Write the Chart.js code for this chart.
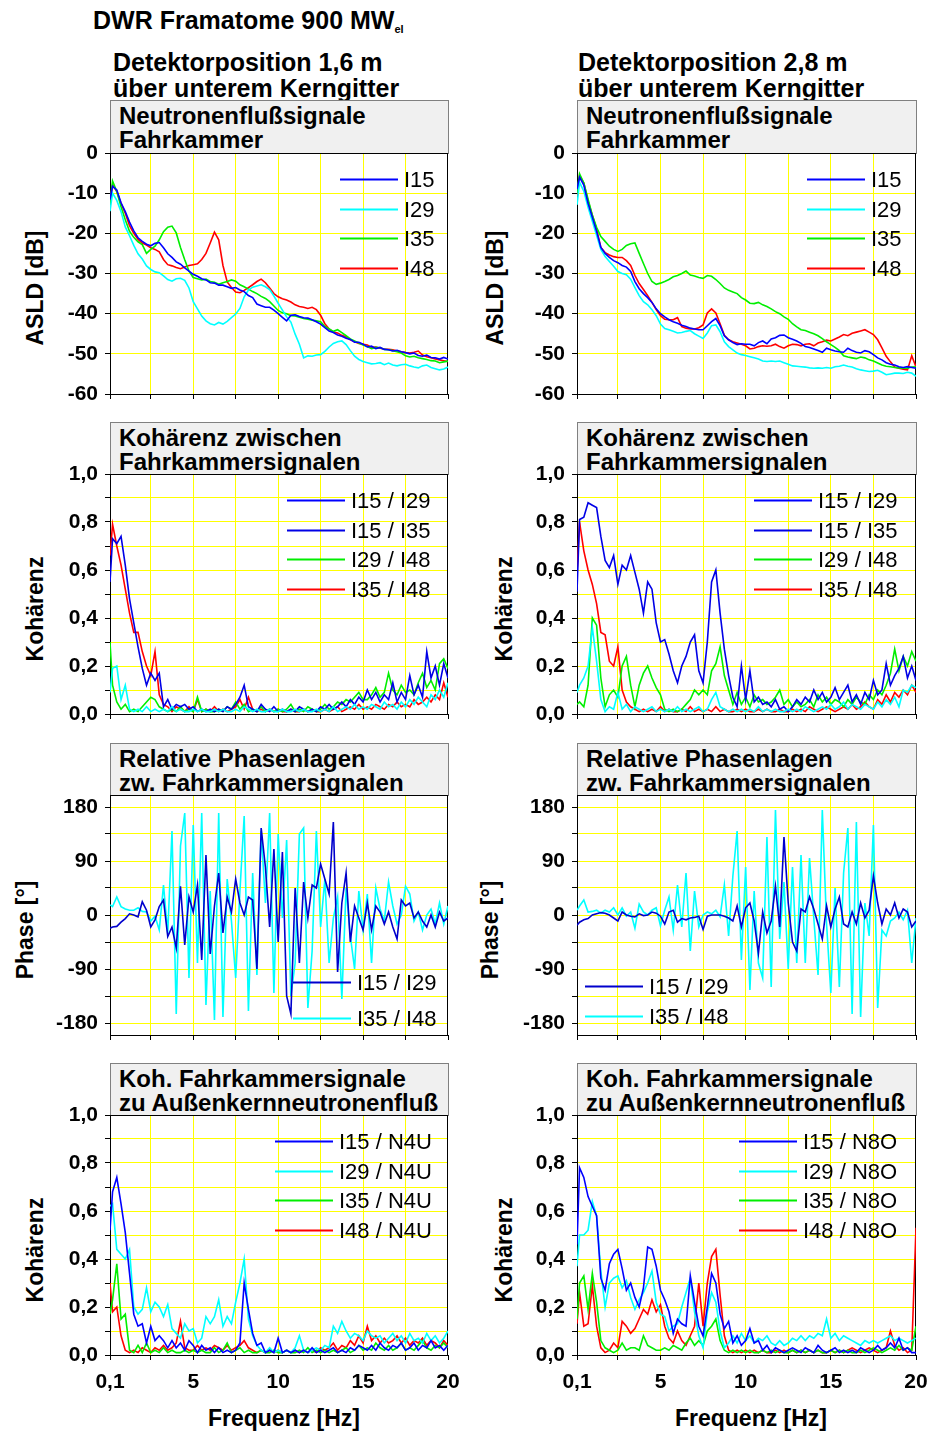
<!DOCTYPE html>
<html>
<head>
<meta charset="utf-8">
<title>DWR Framatome 900 MWel</title>
<script src="https://cdn.jsdelivr.net/npm/chart.js"></script>
<style>
  body { margin: 0; background: #fff; }
  #page { position: relative; width: 941px; height: 1431px; overflow: hidden;
          font-family: "Liberation Sans", Arial, sans-serif; color: #000; }
  .head { position: absolute; font-weight: bold; font-size: 25px; line-height: 26px; white-space: nowrap; }
  .box { position: absolute; box-sizing: border-box; background: #f0f0f0; border: 1px solid #808080;
         font-weight: bold; font-size: 24px; line-height: 24px; padding: 3px 0 0 8px; white-space: nowrap; }
  .rot { position: absolute; font-weight: bold; font-size: 23px; line-height: 23px; white-space: nowrap;
         transform: translate(-50%, -50%) rotate(-90deg); }
  .xt { position: absolute; font-weight: bold; font-size: 23px; line-height: 23px; white-space: nowrap;
        transform: translate(-50%, -50%); }
  canvas { position: absolute; }
</style>
</head>
<body>
<div id="page">
  <div class="head" style="left:93px;top:7px;">DWR Framatome 900 MW<span style="font-size:11px;position:relative;top:4px;">el</span></div>
  <div class="head" style="left:113px;top:49px;">Detektorposition 1,6 m<br>über unterem Kerngitter</div>
  <div class="head" style="left:578px;top:49px;">Detektorposition 2,8 m<br>über unterem Kerngitter</div>

  <div class="box" style="left:110px;top:100px;width:339px;height:54px;">Neutronenflußsignale<br>Fahrkammer</div>
  <div class="box" style="left:577px;top:100px;width:340px;height:54px;">Neutronenflußsignale<br>Fahrkammer</div>
  <div class="box" style="left:110px;top:422px;width:339px;height:53px;">Kohärenz zwischen<br>Fahrkammersignalen</div>
  <div class="box" style="left:577px;top:422px;width:340px;height:53px;">Kohärenz zwischen<br>Fahrkammersignalen</div>
  <div class="box" style="left:110px;top:743px;width:339px;height:53px;">Relative Phasenlagen<br>zw. Fahrkammersignalen</div>
  <div class="box" style="left:577px;top:743px;width:340px;height:53px;">Relative Phasenlagen<br>zw. Fahrkammersignalen</div>
  <div class="box" style="left:110px;top:1063px;width:339px;height:53px;">Koh. Fahrkammersignale<br>zu Außenkernneutronenfluß</div>
  <div class="box" style="left:577px;top:1063px;width:340px;height:53px;">Koh. Fahrkammersignale<br>zu Außenkernneutronenfluß</div>

  <div class="rot" style="left:35px;top:288px;">ASLD [dB]</div>
  <div class="rot" style="left:495px;top:288px;">ASLD [dB]</div>
  <div class="rot" style="left:35px;top:609px;">Kohärenz</div>
  <div class="rot" style="left:504px;top:609px;">Kohärenz</div>
  <div class="rot" style="left:25px;top:930px;">Phase [°]</div>
  <div class="rot" style="left:490px;top:930px;">Phase [°]</div>
  <div class="rot" style="left:35px;top:1250px;">Kohärenz</div>
  <div class="rot" style="left:504px;top:1250px;">Kohärenz</div>

  <div class="xt" style="left:284px;top:1418px;">Frequenz [Hz]</div>
  <div class="xt" style="left:751px;top:1418px;">Frequenz [Hz]</div>
</div>

<script>
// frequency grid shared by all curves (Hz)
const freqHz = [0.1,
  0.25,0.5,0.75,1,1.25,1.5,1.75,2,2.25,2.5,
  2.75,3,3.25,3.5,3.75,4,4.25,4.5,4.75,5,
  5.25,5.5,5.75,6,6.25,6.5,6.75,7,7.25,7.5,
  7.75,8,8.25,8.5,8.75,9,9.25,9.5,9.75,10,
  10.25,10.5,10.75,11,11.25,11.5,11.75,12,12.25,12.5,
  12.75,13,13.25,13.5,13.75,14,14.25,14.5,14.75,15,
  15.25,15.5,15.75,16,16.25,16.5,16.75,17,17.25,17.5,
  17.75,18,18.25,18.5,18.75,19,19.25,19.5,19.75,20];

// tick positions and labels
const xTicks = [0.1, 2.5, 5, 7.5, 10, 12.5, 15, 17.5, 20];
const xTickLabels = ['0,1', '', '5', '', '10', '', '15', '', '20'];
const yTicksAsld = [-60, -50, -40, -30, -20, -10, 0];
const yLabelsAsld = ['-60', '-50', '-40', '-30', '-20', '-10', '0'];
const yTicksKoh = [0, 0.1, 0.2, 0.3, 0.4, 0.5, 0.6, 0.7, 0.8, 0.9, 1.0];
const yLabelsKoh = ['0,0', '', '0,2', '', '0,4', '', '0,6', '', '0,8', '', '1,0'];
const yTicksPhase = [-180, -135, -90, -45, 0, 45, 90, 135, 180];
const yLabelsPhase = ['-180', '', '-90', '', '0', '', '90', '', '180'];

// --- ASLD, detector 1,6 m (dB)
const asld16_I15 = [-11.6,
  -8.3,-9.2,-12.4,-14.6,-17.2,-19.4,-21.1,-22.0,-22.7,-23.1,
  -22.5,-22.3,-23.6,-25.1,-26.0,-27.1,-27.7,-28.6,-29.4,-30.2,
  -30.7,-31.3,-31.6,-32.3,-32.4,-32.9,-32.9,-33.3,-33.7,-33.5,
  -34.1,-34.5,-35.5,-36.0,-37.6,-38.0,-38.4,-38.4,-39.1,-40.0,
  -40.9,-41.8,-40.4,-40.3,-40.7,-41.0,-41.1,-41.5,-42.0,-42.6,
  -43.5,-44.3,-44.7,-45.3,-45.6,-46.1,-46.4,-47.1,-47.1,-47.6,
  -48.3,-48.1,-48.7,-48.4,-48.9,-49.0,-49.3,-49.1,-49.5,-49.7,
  -50.0,-49.8,-50.4,-50.6,-50.3,-50.9,-51.0,-51.3,-50.9,-51.3];
const asld16_I29 = [-14.5,
  -10.0,-11.8,-14.6,-18.4,-20.6,-23.0,-25.1,-26.4,-28.1,-29.0,
  -29.6,-29.8,-30.6,-31.5,-31.9,-31.3,-31.2,-31.7,-33.6,-37.0,
  -38.8,-40.6,-41.8,-42.5,-42.8,-42.2,-42.6,-41.9,-41.0,-40.1,
  -38.7,-35.8,-34.1,-33.4,-33.1,-32.8,-33.3,-34.0,-35.6,-37.4,
  -39.1,-40.8,-42.1,-45.1,-47.6,-51.0,-50.5,-50.6,-50.3,-50.2,
  -49.4,-48.3,-47.4,-47.0,-46.8,-47.7,-49.2,-50.6,-51.4,-51.9,
  -52.2,-52.5,-52.4,-52.2,-52.7,-52.3,-52.8,-53.0,-52.7,-52.6,
  -53.0,-53.3,-53.5,-53.0,-52.8,-53.4,-53.7,-54.0,-53.8,-53.3];
const asld16_I35 = [-12.9,
  -7.0,-9.6,-13.4,-16.6,-19.5,-21.0,-22.1,-22.8,-25.0,-24.0,
  -23.2,-21.6,-19.6,-18.5,-18.2,-19.9,-23.5,-26.6,-29.4,-31.0,
  -31.3,-31.6,-31.4,-32.0,-32.2,-32.7,-32.3,-32.0,-31.6,-31.9,
  -32.8,-33.3,-33.9,-34.5,-35.0,-35.7,-36.2,-37.0,-38.1,-39.2,
  -39.8,-40.0,-40.5,-40.6,-40.9,-41.2,-41.4,-41.6,-41.8,-42.0,
  -43.2,-43.8,-44.4,-44.0,-44.7,-45.5,-46.3,-46.8,-47.3,-47.8,
  -48.2,-48.7,-48.4,-48.5,-48.9,-49.0,-49.2,-49.5,-49.8,-50.5,
  -50.8,-50.6,-51.0,-51.2,-51.4,-51.7,-51.8,-52.2,-52.0,-51.8];
const asld16_I48 = [-11.8,
  -7.9,-9.6,-12.6,-15.0,-18.1,-20.0,-21.5,-22.4,-22.9,-23.6,
  -24.0,-24.6,-26.5,-27.8,-28.1,-28.5,-28.8,-28.4,-28.0,-27.8,
  -27.6,-26.5,-25.0,-22.4,-19.7,-21.6,-28.0,-32.1,-33.5,-34.6,
  -34.8,-34.2,-33.5,-32.8,-32.0,-31.4,-32.3,-33.6,-35.0,-35.8,
  -36.3,-36.6,-37.1,-37.8,-38.2,-38.4,-38.7,-38.4,-39.0,-40.4,
  -42.5,-43.8,-44.6,-44.8,-45.4,-45.8,-46.5,-47.0,-47.4,-47.6,
  -47.8,-48.4,-48.3,-48.6,-48.8,-48.9,-49.0,-49.3,-49.5,-49.7,
  -49.8,-49.6,-49.3,-50.3,-50.7,-51.0,-51.3,-51.5,-51.7,-51.9];

// --- ASLD, detector 2,8 m (dB)
const asld28_I15 = [-9.0,
  -6.0,-8.0,-12.5,-16.0,-19.5,-23.5,-25.0,-26.0,-26.8,-27.3,
  -28.0,-28.4,-29.5,-32.0,-33.8,-35.0,-36.0,-37.2,-38.8,-40.0,
  -40.8,-41.5,-42.0,-42.4,-42.9,-43.2,-43.6,-43.8,-44.0,-44.0,
  -43.0,-42.0,-41.2,-43.0,-45.5,-46.5,-47.2,-47.7,-47.5,-47.6,
  -47.6,-48.0,-47.2,-46.8,-47.5,-46.3,-46.0,-45.4,-45.3,-46.0,
  -46.4,-46.8,-47.4,-48.2,-48.4,-48.8,-49.2,-49.6,-48.6,-49.0,
  -49.3,-49.5,-49.6,-48.6,-49.2,-49.6,-49.8,-49.2,-49.5,-50.2,
  -51.0,-51.5,-52.2,-52.6,-52.8,-53.2,-53.4,-53.2,-53.4,-53.6];
const asld28_I29 = [-12.9,
  -7.3,-9.5,-13.5,-17.0,-20.5,-24.0,-25.8,-27.0,-28.2,-29.5,
  -30.0,-30.3,-31.4,-33.5,-35.5,-37.0,-37.8,-39.0,-40.5,-42.6,
  -43.7,-44.0,-44.4,-44.8,-44.7,-44.4,-44.2,-45.0,-45.6,-46.2,
  -44.8,-43.0,-42.8,-44.5,-47.0,-48.2,-49.0,-49.8,-50.2,-50.4,
  -50.7,-51.0,-51.3,-51.8,-51.9,-51.8,-51.9,-51.8,-52.2,-52.6,
  -53.0,-53.1,-53.2,-53.3,-53.5,-53.6,-53.5,-53.6,-53.4,-53.6,
  -53.2,-53.1,-52.8,-53.1,-53.3,-53.7,-54.0,-54.2,-54.4,-54.3,
  -54.1,-54.6,-55.2,-55.0,-54.8,-54.8,-54.9,-54.6,-54.8,-55.6];
const asld28_I35 = [-10.0,
  -5.2,-7.5,-11.5,-15.5,-18.5,-20.8,-22.0,-23.2,-24.0,-24.5,
  -24.0,-23.0,-22.6,-22.4,-25.0,-27.5,-30.0,-32.0,-32.7,-32.4,
  -32.0,-31.5,-30.8,-30.5,-30.0,-29.4,-30.4,-30.6,-31.0,-31.2,
  -30.5,-30.7,-31.5,-32.5,-33.6,-34.2,-34.6,-35.0,-36.0,-36.6,
  -37.4,-37.5,-37.2,-37.8,-38.2,-38.8,-39.5,-40.0,-40.8,-41.4,
  -42.5,-43.3,-44.0,-44.2,-44.6,-45.0,-45.5,-46.2,-47.0,-47.7,
  -48.4,-49.2,-50.5,-50.8,-51.0,-51.2,-50.8,-51.0,-51.5,-51.8,
  -52.3,-52.8,-53.1,-53.2,-53.4,-53.5,-53.6,-53.6,-53.3,-53.2];
const asld28_I48 = [-10.8,
  -5.6,-7.5,-12.0,-15.5,-19.0,-23.5,-24.8,-25.4,-25.8,-26.0,
  -26.0,-26.8,-28.0,-30.5,-32.5,-34.0,-35.5,-37.2,-39.0,-40.5,
  -41.4,-41.5,-41.5,-41.0,-43.2,-43.6,-43.8,-43.8,-43.5,-42.8,
  -39.8,-38.8,-39.8,-42.5,-45.4,-46.5,-47.0,-47.3,-47.6,-48.0,
  -48.8,-48.6,-48.2,-48.0,-48.1,-48.0,-47.6,-48.2,-48.6,-48.0,
  -47.6,-47.7,-48.0,-47.6,-47.5,-48.0,-47.3,-47.0,-46.6,-46.8,
  -46.3,-45.8,-45.2,-45.5,-44.9,-44.6,-44.3,-44.0,-44.6,-45.2,
  -46.5,-48.5,-50.6,-52.0,-53.3,-53.6,-53.8,-54.0,-50.5,-53.3];

// --- coherence between detector signals, 1,6 m
const coh16_15_29 = [0.09,
  0.19,0.2,0.06,0.12,0.02,0.01,0.02,0.01,0.03,0.01,
  0.02,0.01,0.02,0.01,0.03,0.01,0.02,0.01,0.01,0.02,
  0.01,0.02,0.01,0.01,0.02,0.01,0.02,0.01,0.01,0.02,
  0.01,0.03,0.02,0.01,0.02,0.01,0.01,0.02,0.01,0.01,
  0.02,0.01,0.01,0.02,0.01,0.02,0.01,0.01,0.02,0.01,
  0.02,0.01,0.03,0.01,0.02,0.03,0.02,0.04,0.02,0.03,
  0.02,0.04,0.03,0.02,0.05,0.03,0.04,0.02,0.05,0.03,
  0.06,0.04,0.07,0.05,0.03,0.08,0.06,0.1,0.07,0.13];
const coh16_15_35 = [0.55,
  0.73,0.71,0.74,0.62,0.48,0.38,0.28,0.19,0.12,0.17,
  0.14,0.17,0.03,0.06,0.02,0.04,0.03,0.04,0.02,0.03,
  0.01,0.02,0.01,0.02,0.01,0.02,0.01,0.03,0.02,0.04,
  0.07,0.12,0.03,0.02,0.01,0.04,0.02,0.01,0.03,0.01,
  0.02,0.01,0.02,0.01,0.03,0.02,0.01,0.02,0.01,0.03,
  0.02,0.04,0.02,0.03,0.05,0.03,0.06,0.04,0.07,0.05,
  0.1,0.06,0.09,0.05,0.08,0.06,0.13,0.05,0.09,0.06,
  0.16,0.08,0.12,0.07,0.26,0.15,0.2,0.12,0.21,0.15];
const coh16_29_48 = [0.3,
  0.12,0.05,0.02,0.04,0.01,0.02,0.01,0.03,0.05,0.07,
  0.06,0.03,0.02,0.01,0.02,0.01,0.03,0.01,0.02,0.01,
  0.07,0.01,0.02,0.01,0.01,0.02,0.01,0.03,0.02,0.05,
  0.02,0.04,0.01,0.02,0.01,0.03,0.01,0.02,0.01,0.02,
  0.01,0.02,0.04,0.01,0.02,0.01,0.03,0.02,0.01,0.02,
  0.04,0.02,0.03,0.05,0.04,0.06,0.05,0.07,0.09,0.06,
  0.06,0.08,0.11,0.07,0.09,0.17,0.1,0.08,0.12,0.09,
  0.1,0.08,0.13,0.17,0.11,0.14,0.1,0.21,0.23,0.19];
const coh16_35_48 = [0.66,
  0.79,0.7,0.62,0.52,0.42,0.34,0.34,0.26,0.2,0.16,
  0.26,0.08,0.04,0.03,0.01,0.03,0.02,0.01,0.03,0.01,
  0.06,0.01,0.02,0.01,0.03,0.01,0.02,0.01,0.02,0.03,
  0.06,0.02,0.07,0.02,0.01,0.02,0.01,0.02,0.01,0.02,
  0.01,0.01,0.02,0.01,0.01,0.02,0.01,0.02,0.01,0.01,
  0.02,0.01,0.02,0.03,0.01,0.02,0.03,0.02,0.04,0.02,
  0.03,0.02,0.04,0.03,0.02,0.04,0.03,0.05,0.03,0.04,
  0.03,0.06,0.04,0.05,0.07,0.05,0.08,0.06,0.13,0.07];

// --- coherence between detector signals, 2,8 m
const coh28_15_29 = [0.09,
  0.12,0.15,0.2,0.36,0.22,0.06,0.01,0.03,0.02,0.09,
  0.02,0.04,0.01,0.03,0.02,0.01,0.02,0.03,0.01,0.02,
  0.01,0.02,0.01,0.03,0.01,0.02,0.01,0.02,0.03,0.01,
  0.02,0.06,0.09,0.03,0.02,0.01,0.02,0.01,0.02,0.01,
  0.02,0.01,0.03,0.01,0.02,0.01,0.02,0.01,0.01,0.02,
  0.01,0.02,0.01,0.03,0.02,0.01,0.02,0.03,0.02,0.04,
  0.02,0.03,0.05,0.02,0.04,0.03,0.02,0.04,0.03,0.02,
  0.05,0.03,0.06,0.04,0.07,0.03,0.1,0.09,0.12,0.11];
const coh28_15_35 = [0.51,
  0.81,0.82,0.88,0.87,0.86,0.74,0.64,0.61,0.66,0.54,
  0.62,0.6,0.66,0.59,0.52,0.42,0.55,0.52,0.38,0.3,
  0.31,0.25,0.18,0.13,0.2,0.24,0.3,0.33,0.18,0.13,
  0.3,0.55,0.6,0.42,0.27,0.16,0.07,0.03,0.2,0.06,
  0.18,0.05,0.07,0.04,0.05,0.03,0.06,0.02,0.03,0.01,
  0.03,0.06,0.04,0.07,0.05,0.1,0.06,0.09,0.05,0.07,
  0.11,0.06,0.09,0.12,0.05,0.08,0.04,0.09,0.06,0.14,
  0.08,0.1,0.21,0.12,0.16,0.19,0.24,0.15,0.2,0.14];
const coh28_29_48 = [0.04,
  0.05,0.03,0.12,0.4,0.37,0.15,0.03,0.08,0.1,0.07,
  0.2,0.24,0.12,0.03,0.12,0.17,0.2,0.15,0.11,0.08,
  0.02,0.01,0.02,0.01,0.02,0.04,0.06,0.1,0.08,0.1,
  0.08,0.18,0.21,0.28,0.16,0.1,0.04,0.09,0.04,0.07,
  0.03,0.08,0.05,0.06,0.04,0.05,0.07,0.1,0.04,0.06,
  0.03,0.05,0.03,0.04,0.06,0.03,0.08,0.05,0.07,0.04,
  0.06,0.05,0.03,0.06,0.04,0.07,0.05,0.04,0.08,0.06,
  0.1,0.08,0.12,0.17,0.27,0.18,0.24,0.2,0.26,0.22];
const coh28_35_48 = [0.59,
  0.8,0.68,0.6,0.54,0.46,0.34,0.33,0.22,0.2,0.28,
  0.1,0.05,0.03,0.02,0.01,0.02,0.01,0.02,0.01,0.03,
  0.01,0.02,0.01,0.01,0.02,0.01,0.03,0.01,0.02,0.01,
  0.02,0.01,0.03,0.01,0.02,0.01,0.01,0.02,0.01,0.02,
  0.01,0.01,0.02,0.01,0.02,0.01,0.01,0.02,0.01,0.01,
  0.02,0.01,0.02,0.01,0.03,0.02,0.01,0.02,0.03,0.02,
  0.01,0.02,0.03,0.02,0.04,0.02,0.03,0.05,0.03,0.02,
  0.06,0.04,0.08,0.05,0.09,0.07,0.1,0.08,0.12,0.09];

// --- relative phase (degrees)
const phase16_15_29 = [-22,
  -20,-19,-12,-6,2,0,-3,22,8,-20,
  -8,14,25,-36,-20,-55,48,-50,30,5,
  50,-75,100,-65,15,70,-30,30,5,60,
  20,0,30,25,-90,145,80,-20,110,-45,
  105,-135,-165,45,-80,55,-5,50,45,85,
  60,35,155,-95,20,70,-45,15,-5,-25,
  20,-25,15,5,-15,5,-20,-40,25,15,
  20,-5,5,-10,-20,0,-20,5,-10,-5];
const phase16_35_48 = [17,
  14,30,14,10,8,8,12,6,5,-10,
  -2,-25,50,-30,140,-165,115,170,-105,150,
  -80,170,-150,40,-175,170,-170,60,-10,-105,
  40,165,-160,70,-100,140,20,170,-130,135,
  -5,125,-135,-80,135,145,-155,-60,140,-20,
  60,-80,-5,30,-140,45,-35,-90,40,-25,
  35,-80,45,10,-10,55,15,-15,0,48,
  35,-10,5,-25,0,10,-15,20,-15,15];
const phase28_15_29 = [-17,
  -12,-8,-6,0,2,4,3,0,-5,-10,
  5,0,-2,-3,2,-1,0,5,3,-2,
  -15,5,8,-12,-6,-8,-5,-4,-2,-24,
  -2,0,0,0,-2,-5,-10,15,-20,12,
  20,-10,-64,5,-30,-10,48,-20,130,20,
  -45,-60,10,5,30,10,-15,-40,15,-20,
  10,30,-15,-20,5,-15,20,-5,8,65,
  20,-15,10,0,20,-5,10,5,-20,-10];
const phase28_35_48 = [8,
  15,25,5,6,8,3,8,5,12,0,
  12,-2,5,-22,18,5,0,8,12,-18,
  8,30,-25,50,-20,70,-60,40,-20,0,
  5,2,8,-3,50,-35,65,140,-75,80,
  -125,40,-80,-105,130,-120,175,-40,55,-90,
  80,-80,100,-80,95,-5,-100,175,-15,-130,
  45,-120,70,145,-165,155,-170,20,-35,150,
  -155,-25,-35,-10,-5,5,-8,8,-80,-5];

// --- coherence detector signals to ex-core flux N4U (1,6 m)
const kohN4U_I15 = [0.52,
  0.68,0.74,0.63,0.51,0.34,0.17,0.12,0.13,0.05,0.12,
  0.06,0.08,0.06,0.03,0.06,0.03,0.05,0.02,0.06,0.04,
  0.01,0.04,0.02,0.03,0.01,0.03,0.01,0.02,0.01,0.02,
  0.05,0.3,0.19,0.09,0.04,0.05,0.01,0.02,0.01,0.07,
  0.01,0.02,0.01,0.02,0.01,0.02,0.01,0.03,0.01,0.02,
  0.01,0.02,0.03,0.01,0.02,0.01,0.03,0.02,0.04,0.03,
  0.02,0.04,0.02,0.05,0.03,0.02,0.04,0.03,0.05,0.02,
  0.03,0.05,0.02,0.04,0.03,0.06,0.03,0.04,0.02,0.04];
const kohN4U_I29 = [0.62,
  0.63,0.44,0.42,0.4,0.44,0.2,0.17,0.19,0.28,0.18,
  0.22,0.2,0.16,0.21,0.11,0.09,0.07,0.13,0.1,0.11,
  0.05,0.07,0.16,0.13,0.16,0.23,0.12,0.16,0.13,0.22,
  0.3,0.4,0.15,0.08,0.04,0.02,0.01,0.03,0.01,0.02,
  0.01,0.02,0.01,0.03,0.08,0.02,0.01,0.02,0.03,0.02,
  0.04,0.03,0.12,0.09,0.14,0.1,0.07,0.09,0.08,0.06,
  0.1,0.08,0.07,0.08,0.05,0.07,0.09,0.06,0.08,0.05,
  0.09,0.06,0.07,0.05,0.09,0.06,0.08,0.05,0.07,0.1];
const kohN4U_I35 = [0.17,
  0.23,0.38,0.15,0.17,0.02,0.01,0.04,0.01,0.05,0.01,
  0.02,0.01,0.03,0.01,0.02,0.01,0.01,0.02,0.01,0.02,
  0.01,0.02,0.01,0.01,0.03,0.01,0.02,0.05,0.01,0.02,
  0.03,0.01,0.02,0.01,0.01,0.02,0.01,0.01,0.02,0.01,
  0.01,0.02,0.01,0.01,0.02,0.01,0.03,0.01,0.02,0.01,
  0.02,0.01,0.02,0.01,0.02,0.03,0.01,0.02,0.04,0.02,
  0.03,0.02,0.05,0.03,0.02,0.04,0.02,0.03,0.05,0.02,
  0.03,0.02,0.04,0.06,0.03,0.02,0.04,0.03,0.05,0.03];
const kohN4U_I48 = [0.3,
  0.18,0.2,0.08,0.02,0.01,0.02,0.01,0.03,0.02,0.01,
  0.03,0.02,0.04,0.02,0.03,0.05,0.14,0.03,0.02,0.02,
  0.04,0.02,0.03,0.02,0.04,0.03,0.02,0.04,0.02,0.03,
  0.04,0.06,0.03,0.02,0.01,0.02,0.01,0.02,0.01,0.02,
  0.01,0.02,0.01,0.02,0.01,0.02,0.01,0.02,0.01,0.03,
  0.02,0.03,0.05,0.02,0.04,0.03,0.06,0.04,0.08,0.05,
  0.12,0.06,0.08,0.05,0.07,0.05,0.06,0.08,0.05,0.07,
  0.04,0.06,0.05,0.07,0.04,0.06,0.05,0.03,0.06,0.04];

// --- coherence detector signals to ex-core flux N8O (2,8 m)
const kohN8O_I15 = [0.46,
  0.78,0.74,0.66,0.62,0.58,0.32,0.27,0.38,0.42,0.44,
  0.36,0.27,0.3,0.24,0.2,0.28,0.45,0.44,0.37,0.27,
  0.23,0.18,0.09,0.15,0.13,0.12,0.33,0.22,0.12,0.08,
  0.2,0.34,0.3,0.17,0.11,0.14,0.05,0.08,0.04,0.06,
  0.11,0.05,0.06,0.02,0.04,0.01,0.03,0.02,0.01,0.02,
  0.03,0.02,0.01,0.03,0.02,0.01,0.04,0.02,0.01,0.02,
  0.03,0.01,0.02,0.01,0.02,0.01,0.03,0.02,0.01,0.02,
  0.04,0.02,0.03,0.05,0.03,0.07,0.02,0.03,0.01,0.01];
const kohN8O_I29 = [0.37,
  0.5,0.5,0.52,0.64,0.58,0.35,0.2,0.3,0.32,0.33,
  0.28,0.31,0.24,0.19,0.23,0.26,0.3,0.35,0.22,0.17,
  0.16,0.1,0.12,0.13,0.2,0.26,0.32,0.18,0.08,0.03,
  0.18,0.26,0.22,0.1,0.03,0.05,0.08,0.05,0.09,0.06,
  0.08,0.05,0.07,0.06,0.08,0.05,0.04,0.06,0.04,0.05,
  0.07,0.06,0.08,0.06,0.08,0.07,0.09,0.08,0.15,0.07,
  0.09,0.06,0.08,0.07,0.06,0.05,0.04,0.06,0.05,0.06,
  0.05,0.06,0.07,0.08,0.06,0.07,0.06,0.05,0.06,0.07];
const kohN8O_I35 = [0.15,
  0.3,0.33,0.19,0.34,0.22,0.06,0.03,0.02,0.01,0.02,
  0.05,0.02,0.03,0.03,0.02,0.08,0.04,0.03,0.02,0.02,
  0.03,0.02,0.04,0.03,0.02,0.05,0.07,0.04,0.06,0.04,
  0.1,0.12,0.15,0.06,0.02,0.01,0.02,0.01,0.02,0.01,
  0.02,0.01,0.01,0.02,0.01,0.02,0.01,0.02,0.01,0.01,
  0.02,0.01,0.02,0.01,0.02,0.01,0.02,0.01,0.01,0.02,
  0.01,0.02,0.01,0.02,0.01,0.01,0.02,0.01,0.02,0.03,
  0.02,0.01,0.02,0.03,0.02,0.04,0.02,0.03,0.02,0.12];
const kohN8O_I48 = [0.13,
  0.26,0.12,0.13,0.29,0.12,0.03,0.01,0.02,0.05,0.03,
  0.14,0.12,0.09,0.11,0.15,0.19,0.17,0.23,0.18,0.21,
  0.12,0.07,0.05,0.1,0.06,0.04,0.08,0.12,0.3,0.12,
  0.3,0.41,0.44,0.25,0.08,0.02,0.01,0.02,0.01,0.02,
  0.01,0.02,0.01,0.02,0.01,0.01,0.02,0.01,0.02,0.01,
  0.02,0.01,0.02,0.01,0.02,0.01,0.02,0.01,0.01,0.02,
  0.01,0.02,0.01,0.02,0.03,0.02,0.01,0.02,0.03,0.02,
  0.01,0.02,0.03,0.1,0.04,0.02,0.03,0.01,0.02,0.53];

const BLUE = '#0000ff', DARKBLUE = '#0000cc', CYAN = '#00ffff', GREEN = '#00ee00', RED = '#ff0000';
const YELLOW = '#ffff00';
const FONT = '"Liberation Sans", Arial, sans-serif';

// page geometry of the plot areas
const COLS = [
    { canvasLeft: 0, canvasWidth: 470, plotLeft: 110, plotRight: 448 },
    { canvasLeft: 470, canvasWidth: 471, plotLeft: 577, plotRight: 916 }
];
const ROWS = [
    { top: 153, bottom: 394, xh: 24, xpad: 7 },
    { top: 474, bottom: 714, xh: 24, xpad: 7 },
    { top: 795, bottom: 1035, xh: 24, xpad: 7 },
    { top: 1115, bottom: 1355, xh: 48, xpad: 10 }
];
const PAD_TOP = 24;

function line(label, values, color, legendColor) {
    return {
        label: label,
        data: freqHz.map((f, i) => ({ x: f, y: values[i] })),
        borderColor: color,
        legendColor: legendColor || color,
        borderWidth: 1.6,
        pointRadius: 0,
        fill: false,
        tension: 0
    };
}

// legend drawn inside the plot area
const inLegend = {
    id: 'inLegend',
    afterDatasetsDraw(chart, args, opts) {
        const { ctx, chartArea } = chart;
        ctx.save();
        ctx.font = '22px ' + FONT;
        ctx.textBaseline = 'middle';
        chart.data.datasets.forEach((ds, i) => {
            const x = chartArea.left + opts.x;
            const y = Math.round(chartArea.top + opts.y + i * opts.dy) + 0.5;
            ctx.strokeStyle = ds.legendColor;
            ctx.lineWidth = 2;
            ctx.beginPath();
            ctx.moveTo(x, y);
            ctx.lineTo(x + 58, y);
            ctx.stroke();
            ctx.fillStyle = '#000';
            ctx.fillText(ds.label, x + 64, y + 1);
        });
        ctx.restore();
    }
};

// black frame around the plot area
const frame = {
    id: 'frame',
    beforeDatasetsDraw(chart) {
        const { ctx, chartArea } = chart;
        ctx.save();
        ctx.strokeStyle = '#000';
        ctx.lineWidth = 1;
        ctx.strokeRect(chartArea.left + 0.5, chartArea.top + 0.5,
            chartArea.right - chartArea.left - 1, chartArea.bottom - chartArea.top);
        ctx.restore();
    }
};

function gridColor(c) {
    if (!c.tick) return YELLOW;
    const s = c.scale;
    return (c.tick.value <= s.min + 1e-9 || c.tick.value >= s.max - 1e-9) ? 'rgba(0,0,0,0)' : YELLOW;
}

const panels = [
    { col: 0, row: 0, yMin: -60, yMax: 0, yTicks: yTicksAsld, yLabels: yLabelsAsld,
      legend: { x: 230, y: 26, dy: 29.7 },
      sets: [line('I15', asld16_I15, BLUE), line('I29', asld16_I29, CYAN),
             line('I35', asld16_I35, GREEN), line('I48', asld16_I48, RED)] },
    { col: 1, row: 0, yMin: -60, yMax: 0, yTicks: yTicksAsld, yLabels: yLabelsAsld,
      legend: { x: 230, y: 26, dy: 29.7 },
      sets: [line('I15', asld28_I15, BLUE), line('I29', asld28_I29, CYAN),
             line('I35', asld28_I35, GREEN), line('I48', asld28_I48, RED)] },
    { col: 0, row: 1, yMin: 0, yMax: 1, yTicks: yTicksKoh, yLabels: yLabelsKoh,
      legend: { x: 177, y: 26, dy: 29.7 },
      sets: [line('I15 / I29', coh16_15_29, CYAN, BLUE), line('I15 / I35', coh16_15_35, '#0000e6'),
             line('I29 / I48', coh16_29_48, GREEN), line('I35 / I48', coh16_35_48, RED)] },
    { col: 1, row: 1, yMin: 0, yMax: 1, yTicks: yTicksKoh, yLabels: yLabelsKoh,
      legend: { x: 177, y: 26, dy: 29.7 },
      sets: [line('I15 / I29', coh28_15_29, CYAN, BLUE), line('I15 / I35', coh28_15_35, '#0000e6'),
             line('I29 / I48', coh28_29_48, GREEN), line('I35 / I48', coh28_35_48, RED)] },
    { col: 0, row: 2, yMin: -200, yMax: 200, yTicks: yTicksPhase, yLabels: yLabelsPhase,
      legend: { x: 183, y: 187, dy: 36 },
      sets: [line('I15 / I29', phase16_15_29, DARKBLUE), line('I35 / I48', phase16_35_48, CYAN)] },
    { col: 1, row: 2, yMin: -200, yMax: 200, yTicks: yTicksPhase, yLabels: yLabelsPhase,
      legend: { x: 8, y: 191, dy: 30 },
      sets: [line('I15 / I29', phase28_15_29, DARKBLUE), line('I35 / I48', phase28_35_48, CYAN)] },
    { col: 0, row: 3, yMin: 0, yMax: 1, yTicks: yTicksKoh, yLabels: yLabelsKoh,
      legend: { x: 165, y: 26, dy: 29.7 },
      sets: [line('I15 / N4U', kohN4U_I15, BLUE), line('I29 / N4U', kohN4U_I29, CYAN),
             line('I35 / N4U', kohN4U_I35, GREEN), line('I48 / N4U', kohN4U_I48, RED)] },
    { col: 1, row: 3, yMin: 0, yMax: 1, yTicks: yTicksKoh, yLabels: yLabelsKoh,
      legend: { x: 162, y: 26, dy: 29.7 },
      sets: [line('I15 / N8O', kohN8O_I15, BLUE), line('I29 / N8O', kohN8O_I29, CYAN),
             line('I35 / N8O', kohN8O_I35, GREEN), line('I48 / N8O', kohN8O_I48, RED)] }
];

const page = document.getElementById('page');

panels.forEach(p => {
    const col = COLS[p.col], row = ROWS[p.row];
    const h = (row.bottom - row.top) + PAD_TOP + row.xh;
    const canvas = document.createElement('canvas');
    canvas.width = col.canvasWidth;
    canvas.height = h;
    canvas.style.left = col.canvasLeft + 'px';
    canvas.style.top = (row.top - PAD_TOP) + 'px';
    canvas.style.width = col.canvasWidth + 'px';
    canvas.style.height = h + 'px';
    page.appendChild(canvas);

    const showX = p.row === 3;
    const tickFont = { family: FONT, size: 21, weight: 'bold' };

    new Chart(canvas.getContext('2d'), {
        type: 'line',
        data: { datasets: p.sets },
        options: {
            responsive: false,
            animation: false,
            devicePixelRatio: 1,
            layout: { padding: { top: PAD_TOP, right: col.canvasLeft + col.canvasWidth - col.plotRight, left: 0, bottom: 0 } },
            scales: {
                x: {
                    type: 'linear', min: 0.1, max: 20,
                    afterBuildTicks: s => { s.ticks = xTicks.map(v => ({ value: v })); },
                    afterFit: s => { s.height = row.xh; },
                    ticks: {
                        autoSkip: false, maxRotation: 0, padding: row.xpad, color: '#000', font: tickFont,
                        callback: (v, i) => showX ? xTickLabels[i] : ''
                    },
                    grid: { color: gridColor, tickColor: '#000', tickLength: 5, lineWidth: 1 },
                    border: { display: false }
                },
                y: {
                    min: p.yMin, max: p.yMax,
                    afterBuildTicks: s => { s.ticks = p.yTicks.map(v => ({ value: v })); },
                    afterFit: s => { s.width = col.plotLeft - col.canvasLeft; },
                    ticks: {
                        autoSkip: false, padding: 7, color: '#000', font: tickFont,
                        callback: (v, i) => p.yLabels[i]
                    },
                    grid: { color: gridColor, tickColor: '#000', tickLength: 5, lineWidth: 1 },
                    border: { display: false }
                }
            },
            plugins: {
                legend: { display: false },
                tooltip: { enabled: false },
                inLegend: p.legend
            }
        },
        plugins: [frame, inLegend]
    });
});
</script>
</body>
</html>
